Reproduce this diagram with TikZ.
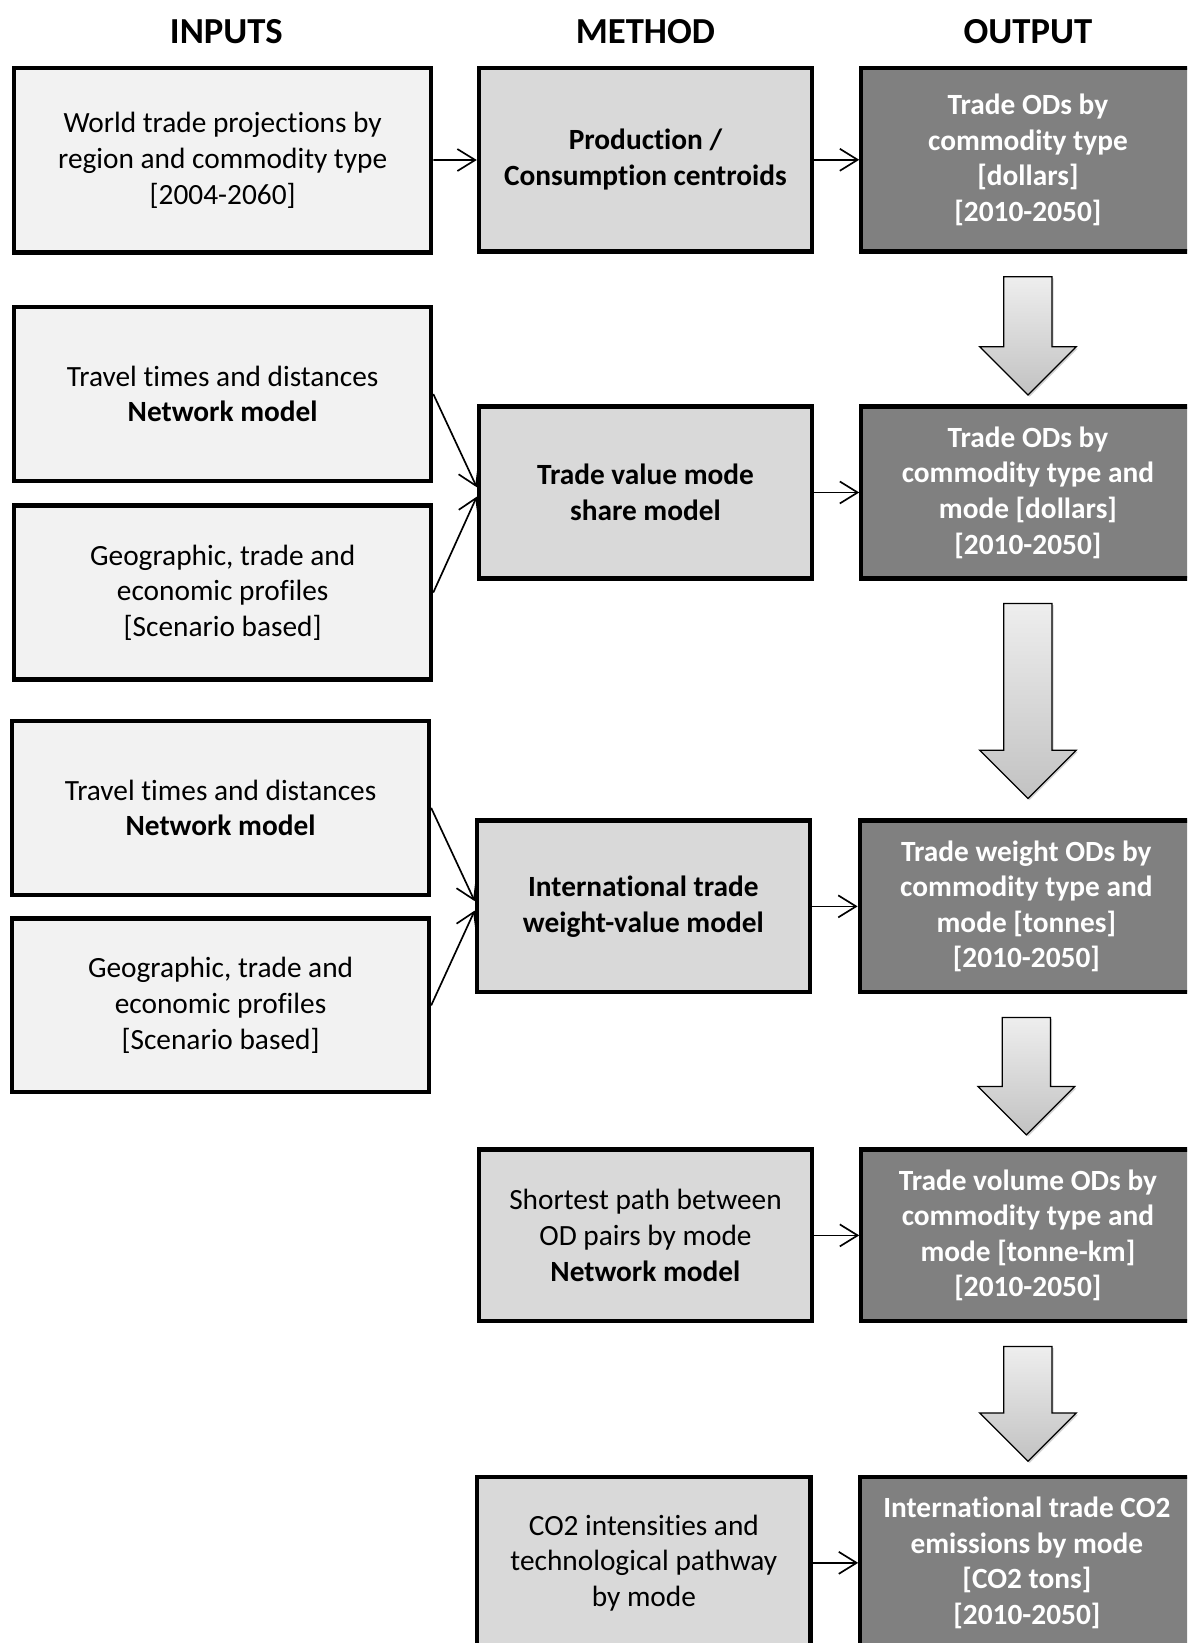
\documentclass[tikz,border=0pt]{standalone}
\usepackage{fontspec}
\setmainfont{Carlito}[RawFeature={-liga;-clig;-calt;-rlig;-ccmp;-dlig;-hlig}]
\usetikzlibrary{arrows.meta, calc, positioning, shadows}

\definecolor{inputfill}{HTML}{F2F2F2}
\definecolor{methodfill}{HTML}{D9D9D9}
\definecolor{outfill}{HTML}{808080}
\definecolor{arrowtop}{HTML}{EEEEEE}
\definecolor{arrowbot}{HTML}{C2C2C2}

\tikzset{
    box/.style={draw=black, line width=2pt, align=center, inner sep=2pt,
        font=\fontsize{14}{17}\selectfont},
    inbox/.style={box, fill=inputfill, minimum width=199pt, minimum height=83pt},
    methodbox/.style={box, fill=methodfill, minimum width=159pt, minimum height=82pt},
    outbox/.style={box, fill=outfill, text=white, minimum width=159pt, minimum height=82pt,
        font=\fontsize{14}{17}\selectfont\bfseries},
    boldtext/.style={font=\fontsize{14}{17}\selectfont\bfseries},
    header/.style={font=\fontsize{17.5}{20}\selectfont\bfseries},
    conn/.style={line width=0.8pt, -{Straight Barb[length=8.5pt, width=10.5pt]}},
    bigarrow/.style={draw=black, line width=0.6pt, top color=arrowtop, bottom color=arrowbot,
        drop shadow={shadow xshift=0.8pt, shadow yshift=-0.8pt, opacity=0.35}}
}

\begin{document}
\begin{tikzpicture}[x=0.5pt, y=-0.5pt]
    \useasboundingbox (0,0) rectangle (1133,1568);
    \clip (0,0) rectangle (1133,1568);

    % column headers
    \node[header] (hin) at (216,30) {INPUTS};
    \node[header] (hmeth) at (616,30) {METHOD};
    \node[header] (hout) at (981,30) {OUTPUT};

    % row 1
    \node[inbox, minimum height=88pt] (i1) at (212.5,153) {World trade projections by\\region and commodity type\\{[2004-2060]}};
    \node[methodbox, boldtext, minimum height=87.5pt] (m1) at (616,152.5) {Production /\\Consumption centroids};
    \node[outbox, minimum height=87.5pt] (o1) at (981,152.5) {Trade ODs by\\commodity type\\{[dollars]}\\{[2010-2050]}};

    % row 2
    \node[inbox] (i2a) at (212.5,376) {Travel times and distances\\\textbf{Network model}};
    \node[inbox] (i2b) at (212.5,565.5) {Geographic, trade and\\economic profiles\\{[Scenario based]}};
    \node[methodbox, boldtext] (m2) at (616,470) {Trade value mode\\share model};
    \node[outbox] (o2) at (981,470) {Trade ODs by\\commodity type and\\mode [dollars]\\{[2010-2050]}};

    % row 3
    \node[inbox] (i3a) at (210.5,771) {Travel times and distances\\\textbf{Network model}};
    \node[inbox] (i3b) at (210.5,959.5) {Geographic, trade and\\economic profiles\\{[Scenario based]}};
    \node[methodbox, boldtext] (m3) at (614,865) {International trade\\weight-value model};
    \node[outbox] (o3) at (979.5,865) {Trade weight ODs by\\commodity type and\\mode [tonnes]\\{[2010-2050]}};

    % row 4
    \node[methodbox] (m4) at (616,1179) {Shortest path between\\OD pairs by mode\\\textbf{Network model}};
    \node[outbox] (o4) at (981,1179) {Trade volume ODs by\\commodity type and\\mode [tonne-km]\\{[2010-2050]}};

    % row 5
    \node[methodbox] (m5) at (614.5,1491.5) {CO2 intensities and\\technological pathway\\by mode};
    \node[outbox] (o5) at (980,1491.5) {International trade CO2\\emissions by mode\\{[CO2 tons]}\\{[2010-2050]}};

    % connectors
    \draw[conn] (i1) -- (m1);
    \draw[conn] (m1) -- (o1);
    \draw[conn] (i2a.east) -- ([yshift=2.5pt]m2.west);
    \draw[conn] (i2b.east) -- ([yshift=-2pt]m2.west);
    \draw[conn] (m2) -- (o2);
    \draw[conn] (i3a.east) -- ([yshift=2.5pt]m3.west);
    \draw[conn] (i3b.east) -- ([yshift=-2pt]m3.west);
    \draw[conn] (m3) -- (o3);
    \draw[conn] (m4) -- (o4);
    \draw[conn] (m5) -- (o5);

    % block arrows between outputs
    \foreach \a/\b/\g in {o1/o2/4.5, o2/o3/9.5, o3/o4/6, o4/o5/6.5} {
        \coordinate (atop) at ([yshift=-11pt]\a.south);
        \coordinate (atip) at ([yshift=\g pt]\b.north);
        \draw[bigarrow] let \p1=(atop), \p2=(atip) in
            (\x1-11.5pt,\y1) -- (\x1+11.5pt,\y1) -- (\x1+11.5pt,\y2+23pt)
            -- (\x1+23pt,\y2+23pt) -- (\x1,\y2) -- (\x1-23pt,\y2+23pt)
            -- (\x1-11.5pt,\y2+23pt) -- cycle;
    }
\end{tikzpicture}
\end{document}
